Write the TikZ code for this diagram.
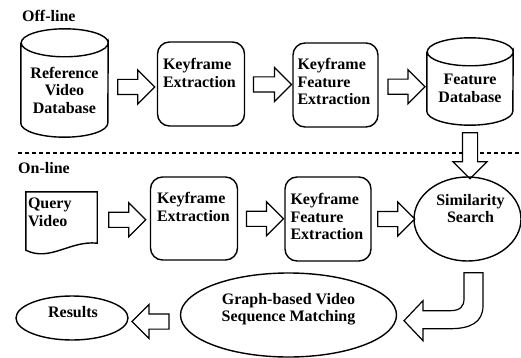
\documentclass[tikz,border=0pt]{standalone}
\usepackage{fontspec}
\setmainfont{Liberation Serif}
\usetikzlibrary{shapes.geometric, shapes.arrows, calc, positioning}

\begin{document}
\begin{tikzpicture}[
  x=1pt, y=-1pt,
  font=\bfseries\fontsize{16}{17.5}\selectfont,
  procbox/.style={draw, line width=1.4pt, rounded corners=12pt, minimum width=87, minimum height=84, inner sep=0pt},
  dbbox/.style={minimum width=87, align=center, inner sep=0pt},
  oval/.style={ellipse, draw, line width=1.4pt, inner sep=0pt},
  lbl/.style={anchor=north west, align=left, inner sep=0pt},
  ovtext/.style={align=center, inner sep=0pt},
  seclbl/.style={anchor=base west, inner sep=0pt},
  bigarrow/.style={single arrow, draw, fill=white, line width=1.2pt, inner sep=0pt, text height=7pt, text depth=7pt, single arrow head extend=9.5pt, minimum height=37},
  shapeline/.style={line width=1.4pt},
  arrowline/.style={line width=1.2pt, fill=white},
  sepline/.style={line width=2.5pt, dash pattern=on 3.5pt off 3.5pt}
]
  \useasboundingbox (0,0) rectangle (521,358);

  % off-line part
  \node[seclbl] (offlbl) at (22,22) {Off-line};

  \node[dbbox, minimum height=94] (refdb) at (64.5,90) {Reference\\Video\\Database};
  \draw[shapeline] (refdb.north west) -- ([yshift=14]refdb.south west)
    arc[start angle=180, end angle=0, x radius=43.5, y radius=14] -- (refdb.north east)
    arc[start angle=0, end angle=360, x radius=43.5, y radius=14];

  \node[procbox] (kfoff) at (201,84) {};
  \node[lbl] (kfofftxt) at ([shift={(6,17)}]kfoff.north west) {Keyframe\\Extraction};

  \node[procbox, minimum width=85] (kffoff) at (335.5,85) {};
  \node[lbl] (kffofftxt) at ([shift={(5,16)}]kffoff.north west) {Keyframe\\Feature\\Extraction};

  \node[dbbox, minimum width=86, minimum height=73] (featdb) at (470,88.5) {Feature\\Database};
  \draw[shapeline] (featdb.north west) -- ([yshift=14]featdb.south west)
    arc[start angle=180, end angle=0, x radius=43, y radius=14] -- (featdb.north east)
    arc[start angle=0, end angle=360, x radius=43, y radius=14];

  % separator
  \coordinate (sepL) at (18,153);
  \coordinate (sepR) at (521,153);
  \draw[sepline] (sepL) -- (sepR);

  \node[bigarrow] (a1) at ($(refdb.east)!.5!(kfoff.west)$) {};
  \node[bigarrow, minimum height=38] (a2) at ($(kfoff.east)!.5!(kffoff.west)$) {};
  \node[bigarrow] (a3) at ($(kffoff.east)!.5!(featdb.west)$) {};
  \node[bigarrow, rotate=-90, anchor=tail, minimum height=46] (a4) at ([yshift=-7]featdb.south) {};

  % on-line part
  \node[seclbl] (onlbl) at (18,173) {On-line};

  \node[minimum width=71, minimum height=58, inner sep=0pt] (qvid) at (61.5,221) {};
  \draw[shapeline] (qvid.south west) -- (qvid.north west) -- (qvid.north east)
    -- ([yshift=7]qvid.south east) .. controls +(-27,-3) and +(24,12) .. (qvid.south west) -- cycle;
  \node[lbl] (qvidtxt) at ([shift={(2,6)}]qvid.north west) {Query\\Video};

  \node[procbox, minimum height=83] (kfon) at (194,218.5) {};
  \node[lbl] (kfontxt) at ([shift={(7,16)}]kfon.north west) {Keyframe\\Extraction};

  \node[procbox, minimum width=86] (kffon) at (328,219) {};
  \node[lbl] (kffontxt) at ([shift={(6,17)}]kffon.north west) {Keyframe\\Feature\\Extraction};

  \node[oval, minimum width=107, minimum height=84] (simsrch) at (467.5,219) {};
  \node[ovtext] (simtxt) at ([shift={(3,-10.5)}]simsrch.center) {Similarity\\Search};

  \node[bigarrow] (a5) at ($(qvid.east)!.5!(kfon.west)$) {};
  \node[bigarrow] (a6) at ($(kfon.east)!.5!(kffon.west)$) {};
  \node[bigarrow] (a7) at ($(kffon.east)!.5!(simsrch.west)$) {};

  % results row
  \node[oval, minimum width=216, minimum height=84] (gmatch) at (288.5,315) {};
  \node[ovtext] (gmatchtxt) at ([yshift=6]gmatch.center) {Graph-based Video\\Sequence Matching};

  \node[oval, minimum width=112, minimum height=44] (results) at (72,318) {};
  \node[ovtext] (resultstxt) at ([shift={(1,-5.5)}]results.center) {Results};

  \node[bigarrow, rotate=180] (a8) at ($(gmatch.west)!.5!(results.east)+(0,5)$) {};

  \coordinate (cturn) at ($(simsrch.south)+(-3.5,11)$);
  \draw[arrowline] (cturn) -- ++(19,0) -- ++(0,33) .. controls +(0,17) and +(20,0) .. ++(-33,23)
    -- ++(-27,0) -- ++(0,12) -- ++(-19,-20) -- ++(19,-20) -- ++(0,10) -- ++(27,0)
    .. controls +(10,0) and +(0,8) .. ++(14,-12) -- cycle;
\end{tikzpicture}
\end{document}
